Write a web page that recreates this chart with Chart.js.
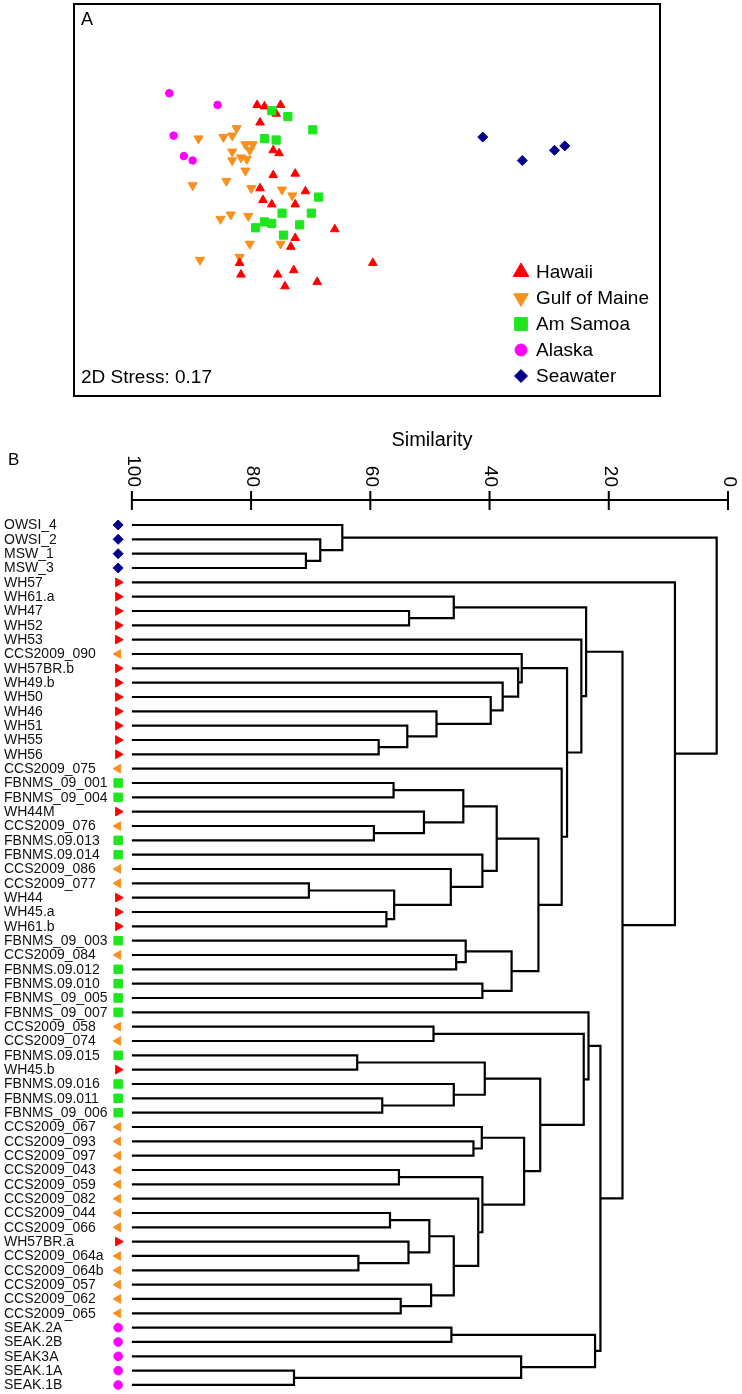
<!DOCTYPE html>
<html>
<head>
<meta charset="utf-8">
<title>Microbial communities: NMDS and cluster dendrogram</title>
<script src="https://cdn.jsdelivr.net/npm/chart.js@4.4.1/dist/chart.umd.min.js"></script>
<style>
  html, body { margin: 0; padding: 0; background: #fff; }
  canvas { display: block; }
</style>
</head>
<body>
<canvas id="nmdsChart" width="742" height="400"></canvas>
<canvas id="clusterChart" width="742" height="994"></canvas>
<script>
// ---- Panel A data: NMDS coordinates (MDS1, MDS2) by region ----
const hawaiiX = [-0.75, -0.70, -0.59, -0.62, -0.73, -0.64, -0.60, -0.64, -0.49, -0.73, -0.42, -0.71, -0.65, -0.49, -0.22, -0.49, -0.52, 0.04, -0.87, -0.86, -0.61, -0.50, -0.56, -0.34];
const hawaiiY = [0.65, 0.64, 0.65, 0.59, 0.53, 0.34, 0.32, 0.17, 0.18, 0.08, 0.06, 0.00, -0.03, -0.03, -0.20, -0.26, -0.32, -0.43, -0.43, -0.51, -0.51, -0.48, -0.59, -0.56];
const gulfX = [-0.89, -0.92, -0.98, -1.15, -0.83, -0.78, -0.80, -0.92, -0.86, -0.82, -0.92, -0.83, -1.19, -0.96, -0.79, -0.58, -0.51, -1.00, -0.93, -0.81, -0.80, -0.59, -1.14, -0.87];
const gulfY = [0.49, 0.44, 0.43, 0.42, 0.38, 0.38, 0.34, 0.33, 0.29, 0.28, 0.27, 0.20, 0.10, 0.13, 0.08, 0.07, 0.03, -0.13, -0.10, -0.11, -0.30, -0.30, -0.41, -0.39];
const samoaX = [-0.65, -0.54, -0.37, -0.70, -0.62, -0.33, -0.58, -0.38, -0.70, -0.65, -0.76, -0.46, -0.57];
const samoaY = [0.61, 0.57, 0.48, 0.42, 0.41, 0.02, -0.09, -0.09, -0.15, -0.16, -0.19, -0.17, -0.24];
const alaskaX = [-1.35, -1.02, -1.32, -1.25, -1.19];
const alaskaY = [0.73, 0.65, 0.44, 0.30, 0.27];
const seawaterX = [0.79, 1.06, 1.28, 1.35];
const seawaterY = [0.43, 0.27, 0.34, 0.37];
const stress = 0.17;

// ---- Panel B data: leaves (top to bottom), their region, and the merges ----
const leafLabels = [
    'OWSI_4', 'OWSI_2', 'MSW_1', 'MSW_3', 'WH57', 'WH61.a', 'WH47', 'WH52', 'WH53',
    'CCS2009_090', 'WH57BR.b', 'WH49.b', 'WH50', 'WH46', 'WH51', 'WH55', 'WH56',
    'CCS2009_075', 'FBNMS_09_001', 'FBNMS_09_004', 'WH44M', 'CCS2009_076',
    'FBNMS.09.013', 'FBNMS.09.014', 'CCS2009_086', 'CCS2009_077', 'WH44', 'WH45.a',
    'WH61.b', 'FBNMS_09_003', 'CCS2009_084', 'FBNMS.09.012', 'FBNMS.09.010',
    'FBNMS_09_005', 'FBNMS_09_007', 'CCS2009_058', 'CCS2009_074', 'FBNMS.09.015',
    'WH45.b', 'FBNMS.09.016', 'FBNMS.09.011', 'FBNMS_09_006', 'CCS2009_067',
    'CCS2009_093', 'CCS2009_097', 'CCS2009_043', 'CCS2009_059', 'CCS2009_082',
    'CCS2009_044', 'CCS2009_066', 'WH57BR.a', 'CCS2009_064a', 'CCS2009_064b',
    'CCS2009_057', 'CCS2009_062', 'CCS2009_065', 'SEAK.2A', 'SEAK.2B', 'SEAK3A',
    'SEAK.1A', 'SEAK.1B'
];
const leafGroups = [
    'SW', 'SW', 'SW', 'SW', 'HI', 'HI', 'HI', 'HI', 'HI',
    'GM', 'HI', 'HI', 'HI', 'HI', 'HI', 'HI', 'HI',
    'GM', 'AS', 'AS', 'HI', 'GM',
    'AS', 'AS', 'GM', 'GM', 'HI', 'HI',
    'HI', 'AS', 'GM', 'AS', 'AS',
    'AS', 'AS', 'GM', 'GM', 'AS',
    'HI', 'AS', 'AS', 'AS', 'GM',
    'GM', 'GM', 'GM', 'GM', 'GM',
    'GM', 'GM', 'HI', 'GM', 'GM',
    'GM', 'GM', 'GM', 'AK', 'AK', 'AK',
    'AK', 'AK'
];
// [node, left child, right child, similarity %]; numbers are leaf positions (1-based)
const merges = [
    ['A', 3, 4, 70.8], ['B', 2, 'A', 68.4], ['C', 1, 'B', 64.7],
    ['J', 7, 8, 53.5], ['H', 6, 'J', 46.0],
    ['S', 16, 17, 58.6], ['R', 15, 'S', 53.8], ['Q', 14, 'R', 48.9], ['P', 13, 'Q', 39.8],
    ['O', 12, 'P', 37.8], ['N', 11, 'O', 35.2], ['L', 10, 'N', 34.6],
    ['Y', 19, 20, 56.1], ['AA', 22, 23, 59.4], ['Z', 21, 'AA', 51.0], ['W', 'Y', 'Z', 44.4],
    ['AD', 26, 27, 70.3], ['AE', 28, 29, 57.3], ['AC', 'AD', 'AE', 56.0], ['AB', 25, 'AC', 46.5],
    ['X', 24, 'AB', 41.2], ['U', 'W', 'X', 38.8],
    ['AH', 31, 32, 45.6], ['AF', 30, 'AH', 44.0], ['AG', 33, 34, 41.2], ['V', 'AF', 'AG', 36.3],
    ['T', 'U', 'V', 31.8], ['M', 18, 'T', 27.9], ['K', 'L', 'M', 27.0], ['I', 9, 'K', 24.6],
    ['F', 'H', 'I', 23.8],
    ['AL', 36, 37, 49.4], ['AP', 38, 39, 62.2], ['AR', 41, 42, 58.0], ['AQ', 40, 'AR', 46.0],
    ['AN', 'AP', 'AQ', 40.8], ['AU', 44, 45, 42.7], ['AS', 43, 'AU', 41.3], ['AV', 46, 47, 55.2],
    ['BA', 49, 50, 56.7], ['BC', 52, 53, 62.0], ['BB', 51, 'BC', 53.6], ['AY', 'BA', 'BB', 50.1],
    ['BD', 55, 56, 54.9], ['AZ', 54, 'BD', 49.8], ['AX', 'AY', 'AZ', 46.0], ['AW', 48, 'AX', 41.9],
    ['AT', 'AV', 'AW', 41.2], ['AO', 'AS', 'AT', 34.2], ['AM', 'AN', 'AO', 31.5],
    ['AK', 'AL', 'AM', 24.2], ['AI', 35, 'AK', 23.4],
    ['BE', 57, 58, 46.4], ['BG', 60, 61, 72.8], ['BF', 59, 'BG', 34.7], ['AJ', 'BE', 'BF', 22.3],
    ['G', 'AI', 'AJ', 21.4], ['E', 'F', 'G', 17.7], ['D', 5, 'E', 8.9], ['ROOT', 'C', 'D', 1.9]
];
const similarityTicks = [100, 80, 60, 40, 20, 0];

// ---- Styles ----
const FONT = "'Liberation Sans', Arial, Helvetica, sans-serif";
const styles = {
    HI: { label: 'Hawaii', color: '#ff0000', shape: 'triangle', rotA: 0, rotB: 90, r: 5, legendR: 9, leafR: 5 },
    GM: { label: 'Gulf of Maine', color: '#f7901e', shape: 'triangle', rotA: 180, rotB: 270, r: 5.3, legendR: 8.5, leafR: 5 },
    AS: { label: 'Am Samoa', color: '#1ee61e', shape: 'rect', rotA: 0, rotB: 0, r: 5.8, legendR: 9, leafR: 6 },
    AK: { label: 'Alaska', color: '#ff00ff', shape: 'circle', rotA: 0, rotB: 0, r: 3.8, legendR: 6, leafR: 4.3 },
    SW: { label: 'Seawater', color: '#00008b', shape: 'rectRot', rotA: 0, rotB: 0, r: 5, legendR: 6.5, leafR: 5 }
};
const legendOrder = ['HI', 'GM', 'AS', 'AK', 'SW'];
const markerX = 102.3;  // leaf symbols sit just left of the 100 % line
const scaleMaxX = 103.5; // room for those symbols inside the chart area

Chart.defaults.font.family = FONT;
Chart.defaults.color = '#000';

function pointsOf(xs, ys) {
    return xs.map((x, i) => ({ x: x, y: ys[i] }));
}

function nmdsDataset(code, xs, ys) {
    const s = styles[code];
    return {
        label: s.label,
        data: pointsOf(xs, ys),
        pointStyle: s.shape,
        pointRotation: s.rotA,
        pointRadius: s.r,
        pointHoverRadius: s.r,
        pointBackgroundColor: s.color,
        pointBorderColor: s.color,
        pointBorderWidth: 1
    };
}

// ---- 1. NMDS ordination ----
const nmdsDecor = {
    id: 'nmdsDecor',
    afterDraw(chart) {
        const { ctx, chartArea: a } = chart;
        ctx.save();
        ctx.strokeStyle = '#000';
        ctx.lineWidth = 2;
        ctx.strokeRect(a.left, a.top, a.right - a.left, a.bottom - a.top);

        ctx.fillStyle = '#000';
        ctx.textAlign = 'left';
        ctx.textBaseline = 'alphabetic';
        ctx.font = '18px ' + FONT;
        ctx.fillText('A', a.left + 7, a.top + 21);
        ctx.font = '19px ' + FONT;
        ctx.fillText('2D Stress: ' + stress.toFixed(2), a.left + 7, a.bottom - 13);

        ctx.textBaseline = 'middle';
        legendOrder.forEach((code, i) => {
            const s = styles[code];
            const y = a.bottom - 124 + i * 26;
            ctx.fillStyle = s.color;
            ctx.strokeStyle = s.color;
            ctx.lineWidth = 1;
            Chart.helpers.drawPoint(ctx, { pointStyle: s.shape, rotation: s.rotA, radius: s.legendR, borderWidth: 1 }, 521, y);
            ctx.fillStyle = '#000';
            ctx.fillText(s.label, 536, y + 1);
        });
        ctx.restore();
    }
};

new Chart(document.getElementById('nmdsChart'), {
    type: 'scatter',
    data: {
        datasets: [
            nmdsDataset('SW', seawaterX, seawaterY),
            nmdsDataset('AK', alaskaX, alaskaY),
            nmdsDataset('AS', samoaX, samoaY),
            nmdsDataset('HI', hawaiiX, hawaiiY),
            nmdsDataset('GM', gulfX, gulfY)
        ]
    },
    options: {
        responsive: false,
        devicePixelRatio: 1,
        animation: false,
        events: [],
        layout: { autoPadding: false, padding: { left: 74, top: 4, right: 82, bottom: 4 } },
        plugins: { legend: { display: false }, tooltip: { enabled: false } },
        scales: {
            x: { display: false, min: -2, max: 2 },
            y: { display: false, min: -1.34, max: 1.34 }
        }
    },
    plugins: [nmdsDecor]
});

// ---- 2. Cluster dendrogram ----
const nodes = {};
merges.forEach(([id, left, right, sim]) => { nodes[id] = { left, right, sim }; });

function place(ref) {
    if (typeof ref === 'number') return { x: 100, y: ref };
    const n = nodes[ref];
    if (!n.pos) {
        const a = place(n.left);
        const b = place(n.right);
        n.pos = { x: n.sim, y: (a.y + b.y) / 2, a: a, b: b };
    }
    return n.pos;
}

const branchDatasets = merges.map(([id]) => {
    const p = place(id);
    return {
        data: [
            { x: p.a.x, y: p.a.y },
            { x: p.x, y: p.a.y },
            { x: p.x, y: p.b.y },
            { x: p.b.x, y: p.b.y }
        ],
        showLine: true,
        borderColor: '#000',
        borderWidth: 2.2,
        borderJoinStyle: 'miter',
        pointRadius: 0,
        pointHoverRadius: 0,
        clip: false
    };
});

const leafMarkers = {
    data: leafLabels.map((_, i) => ({ x: markerX, y: i + 1 })),
    pointStyle: c => styles[leafGroups[c.dataIndex]].shape,
    pointRotation: c => styles[leafGroups[c.dataIndex]].rotB,
    pointRadius: c => styles[leafGroups[c.dataIndex]].leafR,
    pointHoverRadius: c => styles[leafGroups[c.dataIndex]].leafR,
    pointBackgroundColor: c => styles[leafGroups[c.dataIndex]].color,
    pointBorderColor: c => styles[leafGroups[c.dataIndex]].color,
    pointBorderWidth: 1,
    clip: false
};

const clusterDecor = {
    id: 'clusterDecor',
    afterDraw(chart) {
        const { ctx } = chart;
        const x = chart.scales.x;
        const y = chart.scales.y;
        const axisY = chart.chartArea.top;
        ctx.save();
        ctx.fillStyle = '#000';
        ctx.strokeStyle = '#000';
        ctx.textAlign = 'left';
        ctx.textBaseline = 'alphabetic';
        ctx.font = '17px ' + FONT;
        ctx.fillText('B', 8, 65);

        ctx.font = '20px ' + FONT;
        ctx.textAlign = 'center';
        ctx.fillText('Similarity', (x.getPixelForValue(100) + x.getPixelForValue(0)) / 2 + 2, 46);

        // similarity axis along the top
        ctx.lineWidth = 2;
        ctx.beginPath();
        ctx.moveTo(x.getPixelForValue(100), axisY);
        ctx.lineTo(x.getPixelForValue(0), axisY);
        similarityTicks.forEach(v => {
            const px = x.getPixelForValue(v);
            ctx.moveTo(px, axisY - 9);
            ctx.lineTo(px, axisY + 10);
        });
        ctx.stroke();

        ctx.font = '19px ' + FONT;
        ctx.textAlign = 'right';
        ctx.textBaseline = 'middle';
        similarityTicks.forEach(v => {
            ctx.save();
            ctx.translate(x.getPixelForValue(v) + 1, axisY - 13);
            ctx.rotate(Math.PI / 2);
            ctx.fillText(String(v), 0, 0);
            ctx.restore();
        });

        // sample names
        ctx.font = '14px ' + FONT;
        ctx.textAlign = 'left';
        ctx.fillStyle = '#111';
        leafLabels.forEach((name, i) => {
            ctx.fillText(name, 4, y.getPixelForValue(i + 1) + 0.5);
        });
        ctx.restore();
    }
};

new Chart(document.getElementById('clusterChart'), {
    type: 'scatter',
    data: { datasets: branchDatasets.concat([leafMarkers]) },
    options: {
        responsive: false,
        devicePixelRatio: 1,
        animation: false,
        events: [],
        layout: { autoPadding: false, padding: { left: 111, top: 100, right: 14, bottom: 0 } },
        plugins: { legend: { display: false }, tooltip: { enabled: false } },
        scales: {
            x: {
                type: 'linear',
                position: 'top',
                display: false,
                reverse: true,
                min: 0,
                max: scaleMaxX
            },
            y: {
                type: 'linear',
                display: false,
                reverse: true,
                min: -0.744,
                max: 61.63
            }
        }
    },
    plugins: [clusterDecor]
});
</script>
</body>
</html>
